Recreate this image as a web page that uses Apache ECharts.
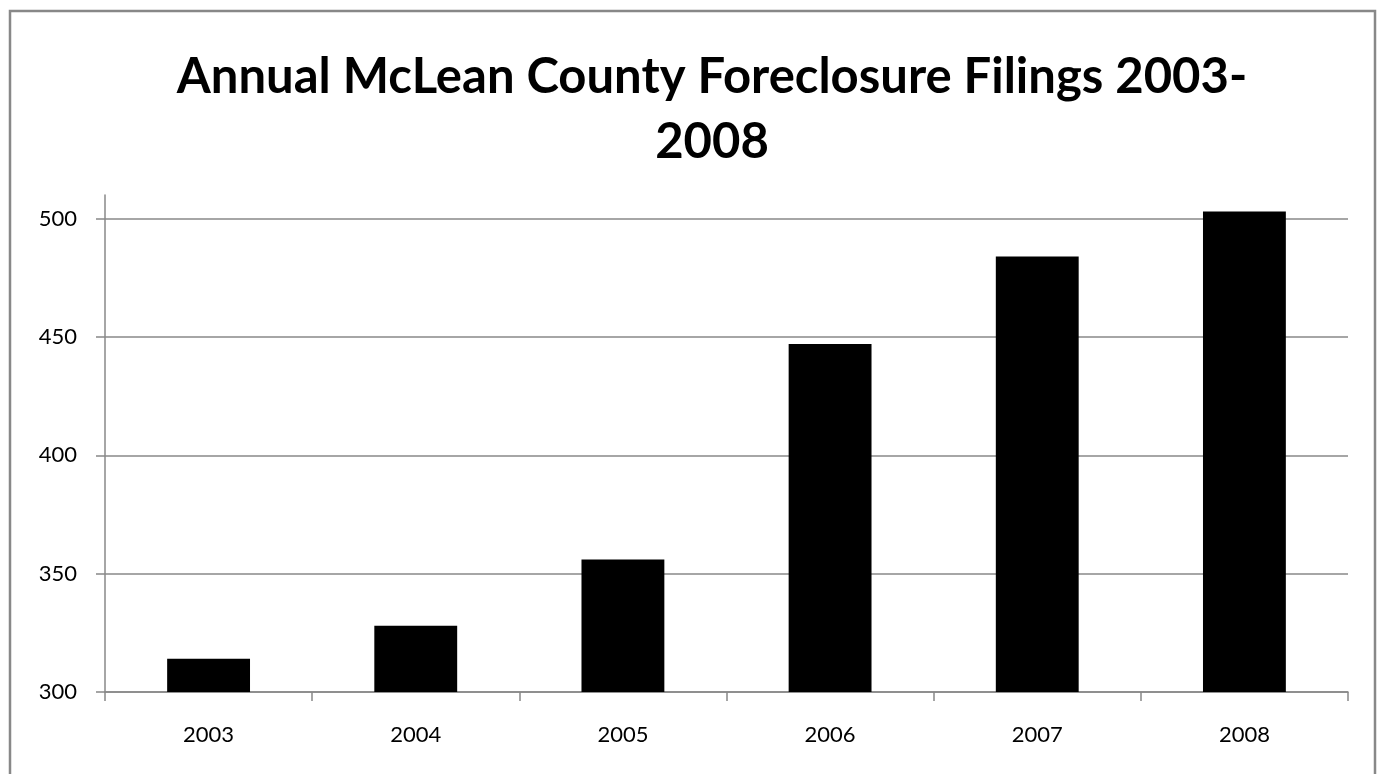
<!DOCTYPE html>
<html><head><meta charset="utf-8">
<script src="https://cdn.jsdelivr.net/npm/echarts@6/dist/echarts.min.js"></script>
<style>html,body{margin:0;padding:0;background:#fff}#c{width:1377px;height:774px}</style>
</head><body><div id="c"></div>
<script>
const titleText = 'Annual McLean County Foreclosure Filings 2003-\n2008';
const years = ['2003', '2004', '2005', '2006', '2007', '2008'];
const filings = [314, 328, 356, 447, 484, 503];
const yTicks = [300, 350, 400, 450, 500];

const chart = echarts.init(document.getElementById('c'));
chart.setOption({
  animation: false,
  backgroundColor: '#fff',
  title: {
    text: titleText,
    left: 707,
    textAlign: 'center',
    top: 40,
    textStyle: { fontFamily: 'Lato', fontWeight: 'bold', fontSize: 49, color: '#000', lineHeight: 65 }
  },
  graphic: [{
    type: 'rect', shape: { x: 10, y: 11, width: 1365, height: 800 },
    style: { fill: 'none', stroke: '#888', lineWidth: 2.5 }, silent: true
  }],
  grid: { left: 105, right: 29, top: 195, bottom: 82, containLabel: false },
  xAxis: {
    type: 'category', data: years,
    axisLine: { lineStyle: { color: '#888', width: 1.5 } },
    axisTick: { show: true, length: 9, alignWithLabel: false, lineStyle: { color: '#888', width: 1.5 } },
    axisLabel: { fontFamily: 'Lato', fontSize: 22, color: '#000', margin: 32 }
  },
  yAxis: {
    type: 'value', min: 300, max: 510, interval: 50,
    axisLine: { show: true, lineStyle: { color: '#888', width: 1.5 } },
    axisTick: { show: true, length: 9, customValues: yTicks, lineStyle: { color: '#888', width: 1.5 } },
    axisLabel: { fontFamily: 'Lato', fontSize: 22, color: '#000', margin: 28, customValues: yTicks },
    splitLine: { show: true, lineStyle: { color: ['#888', '#888', '#888', '#888', '#888', 'rgba(0,0,0,0)'], width: 1.5 } }
  },
  series: [{
    type: 'bar', data: filings, barWidth: '40%',
    itemStyle: { color: '#000' }
  }]
});
</script></body></html>
